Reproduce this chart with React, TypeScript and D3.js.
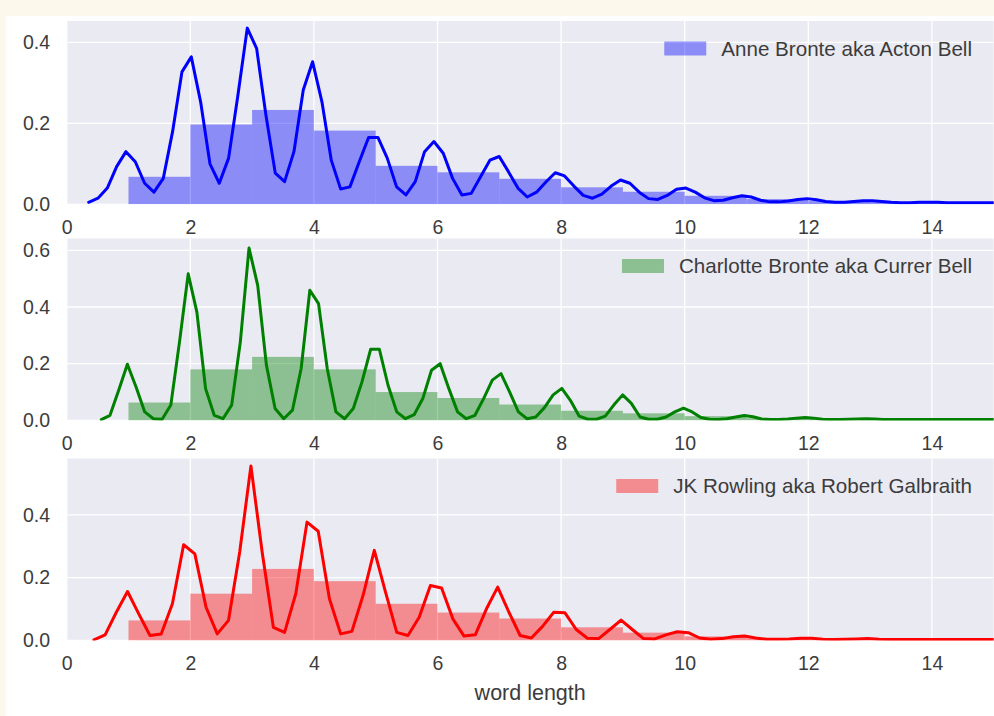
import React, { useEffect, useRef } from "react";
import * as d3 from "d3";

// histogram bins (word length), left edges + final right edge
const binEdges = [1, 2, 3, 4, 5, 6, 7, 8, 9, 10, 11, 12, 13, 14, 15];

const anneHist = [0.068, 0.197, 0.233, 0.182, 0.095, 0.079, 0.063, 0.042, 0.031, 0.021, 0.013, 0.008, 0.005, 0.003];
const charlotteHist = [0.063, 0.18, 0.224, 0.18, 0.1, 0.079, 0.056, 0.034, 0.025, 0.015, 0.008, 0.005, 0.003, 0.002];
const rowlingHist = [0.064, 0.149, 0.228, 0.189, 0.117, 0.089, 0.07, 0.042, 0.025, 0.013, 0.007, 0.004, 0.003, 0.002];

const anneKdeStart = 0.355;
const anneKdeStep = 0.151;
const anneKde = [
  0.005, 0.015, 0.04, 0.093, 0.13, 0.105, 0.052, 0.03, 0.064, 0.18,
  0.327, 0.364, 0.253, 0.1, 0.052, 0.114, 0.27, 0.435, 0.385, 0.22,
  0.077, 0.056, 0.13, 0.282, 0.352, 0.253, 0.109, 0.038, 0.043, 0.105,
  0.165, 0.165, 0.114, 0.043, 0.023, 0.056, 0.13, 0.155, 0.126, 0.064,
  0.023, 0.027, 0.068, 0.109, 0.118, 0.08, 0.04, 0.018, 0.03, 0.055,
  0.078, 0.07, 0.045, 0.022, 0.015, 0.025, 0.045, 0.06, 0.052, 0.03,
  0.014, 0.012, 0.022, 0.037, 0.04, 0.03, 0.016, 0.009, 0.01, 0.016,
  0.021, 0.018, 0.01, 0.006, 0.006, 0.008, 0.012, 0.014, 0.011, 0.007,
  0.005, 0.005, 0.007, 0.009, 0.009, 0.007, 0.005, 0.004, 0.004, 0.005,
  0.005, 0.005, 0.004, 0.004, 0.004, 0.004, 0.004, 0.004, 0.004,
];

const charlotteKdeStart = 0.56;
const charlotteKdeStep = 0.1406;
const charlotteKde = [
  0.003, 0.018, 0.106, 0.198, 0.118, 0.03, 0.006, 0.004, 0.054, 0.277,
  0.517, 0.382, 0.112, 0.018, 0.006, 0.054, 0.277, 0.608, 0.476, 0.195,
  0.042, 0.006, 0.036, 0.183, 0.459, 0.412, 0.183, 0.03, 0.006, 0.042,
  0.136, 0.251, 0.251, 0.124, 0.03, 0.006, 0.02, 0.077, 0.177, 0.2,
  0.112, 0.03, 0.006, 0.018, 0.077, 0.142, 0.165, 0.1, 0.03, 0.006,
  0.012, 0.045, 0.09, 0.113, 0.07, 0.015, 0.004, 0.004, 0.015, 0.055,
  0.09, 0.06, 0.012, 0.004, 0.004, 0.012, 0.03, 0.043, 0.03, 0.01,
  0.004, 0.003, 0.006, 0.012, 0.017, 0.013, 0.005, 0.003, 0.003, 0.005,
  0.008, 0.01, 0.008, 0.004, 0.003, 0.003, 0.004, 0.005, 0.006, 0.005,
  0.003, 0.003, 0.003, 0.003, 0.003, 0.003, 0.003, 0.003, 0.003, 0.003,
  0.003, 0.003, 0.003, 0.003,
];

const rowlingKdeStart = 0.44;
const rowlingKdeStep = 0.1815;
const rowlingKde = [
  0.002, 0.018, 0.09, 0.156, 0.085, 0.016, 0.021, 0.117, 0.305, 0.276,
  0.106, 0.021, 0.064, 0.282, 0.556, 0.282, 0.042, 0.026, 0.149, 0.377,
  0.348, 0.133, 0.021, 0.029, 0.144, 0.287, 0.154, 0.026, 0.016, 0.074,
  0.175, 0.167, 0.069, 0.014, 0.018, 0.101, 0.17, 0.09, 0.016, 0.008,
  0.045, 0.09, 0.088, 0.035, 0.007, 0.006, 0.035, 0.065, 0.035, 0.006,
  0.005, 0.018, 0.028, 0.025, 0.008, 0.004, 0.006, 0.012, 0.014, 0.008,
  0.004, 0.004, 0.005, 0.007, 0.007, 0.004, 0.003, 0.004, 0.005, 0.006,
  0.004, 0.003, 0.003, 0.003, 0.003, 0.003, 0.003, 0.003, 0.003, 0.003,
  0.003, 0.003,
];

const labels = ["Anne Bronte aka Acton Bell", "Charlotte Bronte aka Currer Bell", "JK Rowling aka Robert Galbraith"];
const colors = ["#0000ff", "#008000", "#ff0000"];
const xTicks = [0, 2, 4, 6, 8, 10, 12, 14];
const anneYTicks = [0, 0.2, 0.4];
const charlotteYTicks = [0, 0.2, 0.4, 0.6];
const rowlingYTicks = [0, 0.2, 0.4];
const yMaxes = [0.4526, 0.6416, 0.5796];

const panels = [
  { label: labels[0], color: colors[0], hist: anneHist, kde: anneKde, start: anneKdeStart, step: anneKdeStep, yTicks: anneYTicks, yMax: yMaxes[0], top: 21, bottom: 204.3 },
  { label: labels[1], color: colors[1], hist: charlotteHist, kde: charlotteKde, start: charlotteKdeStart, step: charlotteKdeStep, yTicks: charlotteYTicks, yMax: yMaxes[1], top: 238.5, bottom: 420.4 },
  { label: labels[2], color: colors[2], hist: rowlingHist, kde: rowlingKde, start: rowlingKdeStart, step: rowlingKdeStep, yTicks: rowlingYTicks, yMax: yMaxes[2], top: 458.5, bottom: 640.5 },
];

const FONT = "'Liberation Sans', Arial, Helvetica, sans-serif";
const TEXT = "#3c3c3c";

export default function App() {
  const ref = useRef<SVGSVGElement>(null);

  useEffect(() => {
    document.body.style.margin = "0";
    document.body.style.background = "#fdf8ec";
    const svg = d3.select(ref.current);
    svg.selectAll("*").remove();

    svg.append("rect").attr("x", 6).attr("y", 16).attr("width", 988).attr("height", 700).attr("fill", "#ffffff");

    const left = 66.7, right = 993.7;
    const x = d3.scaleLinear().domain([0, 15]).range([left, right]);

    panels.forEach((p, k) => {
      const y = d3.scaleLinear().domain([0, p.yMax]).range([p.bottom, p.top]);
      const g = svg.append("g");
      const clipId = "plotclip" + k;
      svg.append("clipPath").attr("id", clipId).append("rect")
        .attr("x", left).attr("y", p.top).attr("width", right - left).attr("height", p.bottom - p.top);

      g.append("rect").attr("x", left).attr("y", p.top)
        .attr("width", right - left).attr("height", p.bottom - p.top).attr("fill", "#eaeaf2");

      // grid
      g.append("g").selectAll("line").data(xTicks).enter().append("line")
        .attr("x1", d => x(d)).attr("x2", d => x(d)).attr("y1", p.top).attr("y2", p.bottom)
        .attr("stroke", "#fff").attr("stroke-width", 1.3);
      g.append("g").selectAll("line").data(p.yTicks).enter().append("line")
        .attr("x1", left).attr("x2", right).attr("y1", d => y(d)).attr("y2", d => y(d))
        .attr("stroke", "#fff").attr("stroke-width", 1.3);

      // histogram
      g.append("g").attr("clip-path", `url(#${clipId})`)
        .selectAll("rect").data(p.hist).enter().append("rect")
        .attr("x", (d, i) => x(binEdges[i]))
        .attr("width", (d, i) => x(binEdges[i + 1]) - x(binEdges[i]))
        .attr("y", d => y(d))
        .attr("height", d => p.bottom - y(d))
        .attr("fill", p.color).attr("fill-opacity", 0.4);

      // kde
      const line = d3.line<number>()
        .x((d, i) => x(p.start + i * p.step))
        .y(d => y(d));
      g.append("path").attr("clip-path", `url(#${clipId})`)
        .datum(p.kde).attr("d", line)
        .attr("fill", "none").attr("stroke", p.color).attr("stroke-width", 3)
        .attr("stroke-linejoin", "round").attr("stroke-linecap", "round");

      // axes
      const xa = g.append("g").attr("transform", `translate(0,${p.bottom})`)
        .call(d3.axisBottom(x).tickValues(xTicks).tickSize(0).tickPadding(16).tickFormat(d3.format("d")));
      xa.select(".domain").remove();
      xa.selectAll("text").attr("font-family", FONT).attr("font-size", 19.5).attr("fill", TEXT);

      const ya = g.append("g").attr("transform", `translate(${left},0)`)
        .call(d3.axisLeft(y).tickValues(p.yTicks).tickSize(0).tickPadding(16.7).tickFormat(d3.format(".1f")));
      ya.select(".domain").remove();
      ya.selectAll("text").attr("font-family", FONT).attr("font-size", 19.5).attr("fill", TEXT);

      // legend
      const cy = p.top + 27.5;
      const txt = g.append("text").attr("x", 972).attr("y", cy).attr("dy", "0.35em")
        .attr("text-anchor", "end").attr("font-family", FONT).attr("font-size", 20.6)
        .attr("fill", TEXT).text(p.label);
      const w = (txt.node() as SVGTextElement).getComputedTextLength();
      g.append("rect").attr("x", 972 - w - 15 - 42).attr("y", cy - 7)
        .attr("width", 42).attr("height", 14)
        .attr("fill", p.color).attr("fill-opacity", 0.4);
    });

    svg.append("text").attr("x", (left + right) / 2).attr("y", 700)
      .attr("text-anchor", "middle").attr("font-family", FONT).attr("font-size", 21.5)
      .attr("fill", TEXT).text("word length");
  }, []);

  return <svg ref={ref} width={994} height={716} style={{ display: "block" }} />;
}
